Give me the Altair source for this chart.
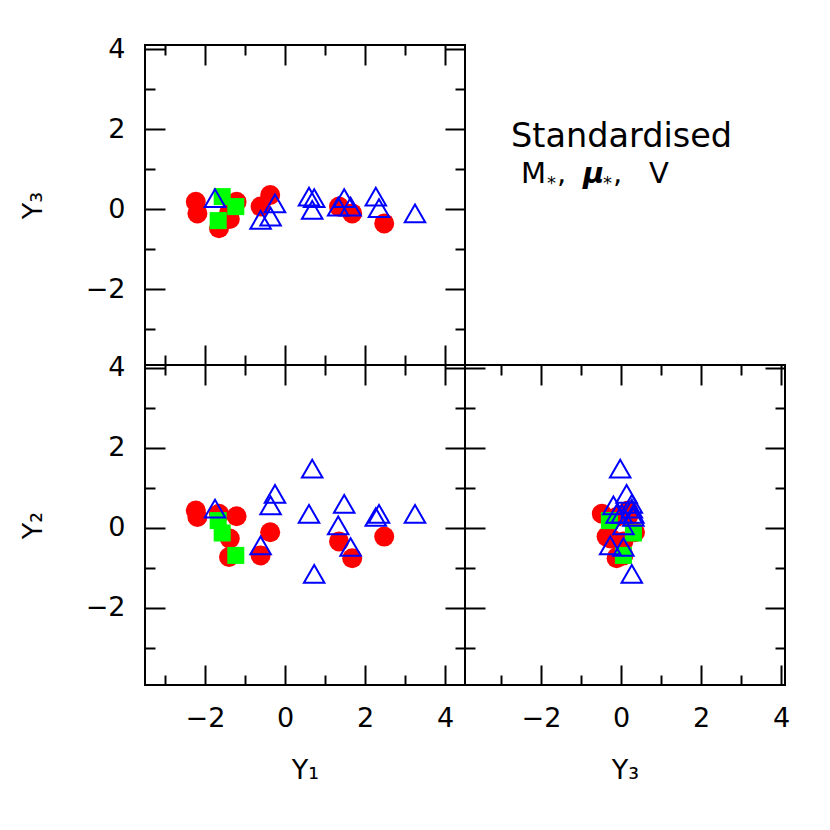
import altair as alt
import pandas as pd

# ---- data: (Y1, Y2, Y3) per object ----
red_y1 = [-2.23, -2.19, -1.65, -1.21, -1.38, -1.40, -0.37, -0.61, 1.35, 1.68, 2.48]
red_y2 = [0.43, 0.27, 0.35, 0.29, -0.27, -0.73, -0.11, -0.69, -0.34, -0.76, -0.22]
red_y3 = [0.18, -0.11, -0.48, 0.18, -0.25, -0.10, 0.35, 0.06, 0.06, -0.11, -0.36]

green_y1 = [-1.57, -1.23, -1.67]
green_y2 = [-0.13, -0.69, 0.18]
green_y3 = [0.31, 0.06, -0.29]

blue_y1 = [-1.75, -0.61, -0.36, -0.25, 0.60, 0.73, 0.68, 1.48, 1.33, 1.64, 2.27, 2.35, 3.25]
blue_y2 = [0.48, -0.44, 0.56, 0.85, 0.35, -1.15, 1.48, 0.60, 0.06, -0.48, 0.27, 0.35, 0.35]
blue_y3 = [0.27, -0.27, -0.19, 0.14, 0.31, 0.27, -0.02, 0.27, 0.06, 0.06, 0.31, 0.02, -0.11]

major_ticks = [-2, 0, 2, 4]
minor_ticks = [-3, -1, 1, 3]

dom_y1 = [-3.5, 4.5]
dom_y2 = [-3.93, 4.07]
dom_y3 = [-3.9, 4.1]

note_line1 = "Standardised"
note_parts = ["M", "*", ",", "\u03bc", "*", ",", "V"]

red_df = pd.DataFrame({"Y1": red_y1, "Y2": red_y2, "Y3": red_y3})
green_df = pd.DataFrame({"Y1": green_y1, "Y2": green_y2, "Y3": green_y3})
blue_df = pd.DataFrame({"Y1": blue_y1, "Y2": blue_y2, "Y3": blue_y3})

FONT = "DejaVu Sans"
W = 320
MAJ = 20
MIN = 10


def enc(field, dom, axis):
    return dict(field=field, type="quantitative",
                scale=alt.Scale(domain=dom, nice=False, zero=False), axis=axis)


def panel(xf, yf, xdom, ydom, xlab, ylab, xtitle, ytitle):
    layers = []
    for df, kw in [
        (red_df, dict(shape="circle", filled=True, color="#ff0000", size=400, opacity=1, strokeWidth=0)),
        (green_df, dict(shape="square", filled=True, color="#00ff00", size=290, opacity=1, strokeWidth=0)),
        (blue_df, dict(shape="triangle-up", filled=False, color="#0000ff", size=420, opacity=1, strokeWidth=2)),
    ]:
        layers.append(
            alt.Chart(df).mark_point(**kw).encode(
                x=alt.X(**enc(xf, xdom, None)), y=alt.Y(**enc(yf, ydom, None))
            )
        )

    def ax(orient, vals, size, labels, title, tpad):
        kw = dict(orient=orient, values=vals, tickSize=size, offset=-size,
                  domain=False, grid=False, labels=labels, ticks=True,
                  labelPadding=20, titlePadding=tpad)
        kw["title"] = title if title else None
        return alt.Axis(**kw)

    specs = [
        ("bottom", "left", major_ticks, MAJ, xlab, ylab, xtitle, ytitle),
        ("bottom", "left", minor_ticks, MIN, False, False, None, None),
        ("top", "right", major_ticks, MAJ, False, False, None, None),
        ("top", "right", minor_ticks, MIN, False, False, None, None),
    ]
    for xo, yo, vals, size, xl, yl, xt, yt in specs:
        layers.append(
            alt.Chart(red_df).mark_point(opacity=0).encode(
                x=alt.X(**enc(xf, xdom, ax(xo, vals, size, xl, xt if xl else None, 26))),
                y=alt.Y(**enc(yf, ydom, ax(yo, vals, size, yl, yt if yl else None, 38))),
            )
        )
    return alt.layer(*layers).resolve_axis(x="independent", y="independent").properties(width=W, height=W)


top_left = panel("Y1", "Y3", dom_y1, dom_y3, False, True, None, "Y\u2083")
bot_left = panel("Y1", "Y2", dom_y1, dom_y2, True, True, "Y\u2081", "Y\u2082")
bot_right = panel("Y3", "Y2", dom_y3, dom_y2, True, False, "Y\u2083", None)

one = pd.DataFrame({"k": [0]})


def txt(s, x, y, size=29, **kw):
    return alt.Chart(one).mark_text(text=s, align="left", baseline="alphabetic",
                                    font=FONT, fontSize=size, color="black", **kw).encode(
        x=alt.value(x), y=alt.value(y))


note = alt.layer(
    txt(note_line1, 46, 102, size=33.5),
    txt(note_parts[0], 56, 138),
    txt(note_parts[1], 82, 144, size=18),
    txt(note_parts[2], 92, 138),
    txt(note_parts[3], 118, 138, fontStyle="italic", fontWeight="bold"),
    txt(note_parts[4], 138, 144, size=18),
    txt(note_parts[5], 148, 138),
    txt(note_parts[6], 184, 138),
).properties(width=W, height=W, view=alt.ViewBackground(stroke="transparent"))

chart = alt.concat(top_left, note, bot_left, bot_right, columns=2, spacing=0,
                   bounds="flush").properties(
    padding={"left": 10, "top": 25, "right": 5, "bottom": 5}
).configure_view(stroke="black", strokeWidth=2).configure_axis(
    labelFont=FONT, labelFontSize=27, labelColor="black",
    titleFont=FONT, titleFontSize=27, titleFontWeight="normal", titleColor="black",
    tickColor="black", tickWidth=2
)

chart.save("out.html", embed_options={"renderer": "svg", "actions": False})
